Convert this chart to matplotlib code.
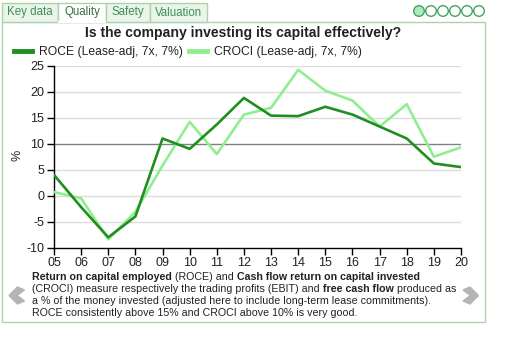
import matplotlib
matplotlib.use('Agg')

import matplotlib.pyplot as plt
from matplotlib.patches import Rectangle, Circle, Polygon
from matplotlib.lines import Line2D
from matplotlib.transforms import Affine2D

W, H = 506, 345

years = list(range(2005, 2021))
year_labels = ['05', '06', '07', '08', '09', '10', '11', '12',
               '13', '14', '15', '16', '17', '18', '19', '20']
roce = [4.0, -2.2, -8.0, -4.0, 11.0, 9.0, 13.7, 18.8,
        15.4, 15.3, 17.1, 15.6, 13.3, 11.0, 6.2, 5.5]
croci = [0.7, -0.5, -8.4, -3.1, 5.8, 14.2, 8.0, 15.6,
         16.9, 24.2, 20.2, 18.3, 13.3, 17.6, 7.5, 9.3]
y_ticks = [-10, -5, 0, 5, 10, 15, 20, 25]
tabs = ['Key data', 'Quality', 'Safety', 'Valuation']

plt.rcParams['font.family'] = ['Liberation Sans', 'DejaVu Sans']
plt.rcParams['axes.unicode_minus'] = False

fig = plt.figure(figsize=(W / 100, H / 100), dpi=100)
# pixel coords measured from the top-left corner
tr = Affine2D().scale(1, -1).translate(0, H)

ax = fig.add_axes([54 / W, 1 - 247.7 / H, 407 / W, 182 / H])
ax.plot(years, croci, color='#90ee90', lw=1.9, zorder=3,
        label='CROCI (Lease-adj, 7x, 7%)')
ax.plot(years, roce, color='#1f8f1f', lw=1.9, zorder=4,
        label='ROCE (Lease-adj, 7x, 7%)')

ax.set_xlim(2005, 2020)
ax.set_ylim(-10, 25)
ax.set_xticks(years)
ax.set_xticklabels(year_labels)
ax.set_yticks(y_ticks)
for v in y_ticks[1:]:
    ax.axhline(v, color='#808080' if v == 10 else '#dcdcdc', lw=1, zorder=1)
for s in ['top', 'right']:
    ax.spines[s].set_visible(False)
for s in ['left', 'bottom']:
    ax.spines[s].set_color('black')
    ax.spines[s].set_linewidth(1)
ax.tick_params(direction='out', length=5, width=1, colors='black',
               labelsize=9, labelcolor='#222222', pad=2)
fig.text(17.5, 155, '%', transform=tr, rotation=90, ha='center', va='center',
         fontsize=9, color='#222222')

handles, labels = ax.get_legend_handles_labels()
ax.legend(handles[::-1], labels[::-1], ncol=2, frameon=False, fontsize=8.75,
          loc='center left', bbox_to_anchor=(14 / W, 1 - 52 / H),
          bbox_transform=fig.transFigure, borderpad=0, borderaxespad=0,
          handlelength=1.5, handletextpad=0.55, columnspacing=0.5,
          labelcolor='#222222')
for line in ax.get_legend().get_lines():
    line.set_linewidth(3.5)

# panel frame and tabs
green_edge = '#a9d3a9'
fig.patches.append(Rectangle((2, 21.5), 483, 300.5, transform=tr, fill=False,
                             ec=green_edge, lw=1))
tab_x = [2, 58, 106, 150, 207]
for i, name in enumerate(tabs):
    active = name == 'Quality'
    fig.patches.append(Rectangle((tab_x[i], 3), tab_x[i + 1] - tab_x[i], 18.5,
                                 transform=tr, fc='white' if active else '#eaf4ea',
                                 ec=green_edge, lw=1))
    fig.text((tab_x[i] + tab_x[i + 1]) / 2, 12.5, name, transform=tr,
             ha='center', va='center', fontsize=8.3,
             color='#3a6f46' if active else '#3d8f58')
fig.lines.append(Line2D([58.7, 105.3], [21.5, 21.5], transform=tr,
                        color='white', lw=1.5))

# page indicator dots
for i in range(6):
    fig.patches.append(Circle((419 + 12 * i, 11), 5.3, transform=tr,
                              fc='#aee8c0' if i == 0 else 'white',
                              ec='#43a465', lw=1))

fig.text(243.5, 33.5, 'Is the company investing its capital effectively?',
         transform=tr, ha='center', va='center', fontsize=10.1,
         fontweight='bold', color='#222222')

# navigation chevrons
grey = '#b4b4b4'
fig.patches.append(Polygon([(9, 295.5), (17.5, 287), (24.5, 290), (17, 295.5),
                            (24.5, 301), (17.5, 304)], transform=tr, fc=grey, ec=grey))
fig.patches.append(Polygon([(478.5, 295.5), (470, 287), (463, 290), (470.5, 295.5),
                            (463, 301), (470, 304)], transform=tr, fc=grey, ec=grey))

# description with bold fragments
desc = [
    [('Return on capital employed', True), (' (ROCE) and ', False),
     ('Cash flow return on capital invested', True)],
    [('(CROCI) measure respectively the trading profits (EBIT) and ', False),
     ('free cash flow', True), (' produced as', False)],
    [('a % of the money invested (adjusted here to include long-term lease commitments).', False)],
    [('ROCE consistently above 15% and CROCI above 10% is very good.', False)],
]
renderer = fig.canvas.get_renderer()
for row, parts in enumerate(desc):
    x = 32.5
    y = 277 + 12 * row
    for txt, bold in parts:
        t = fig.text(x, y, txt, transform=tr, ha='left', va='center',
                     fontsize=7.65, color='#222222',
                     fontweight='bold' if bold else 'normal')
        x += t.get_window_extent(renderer).width

fig.savefig('out.png', dpi=100)
